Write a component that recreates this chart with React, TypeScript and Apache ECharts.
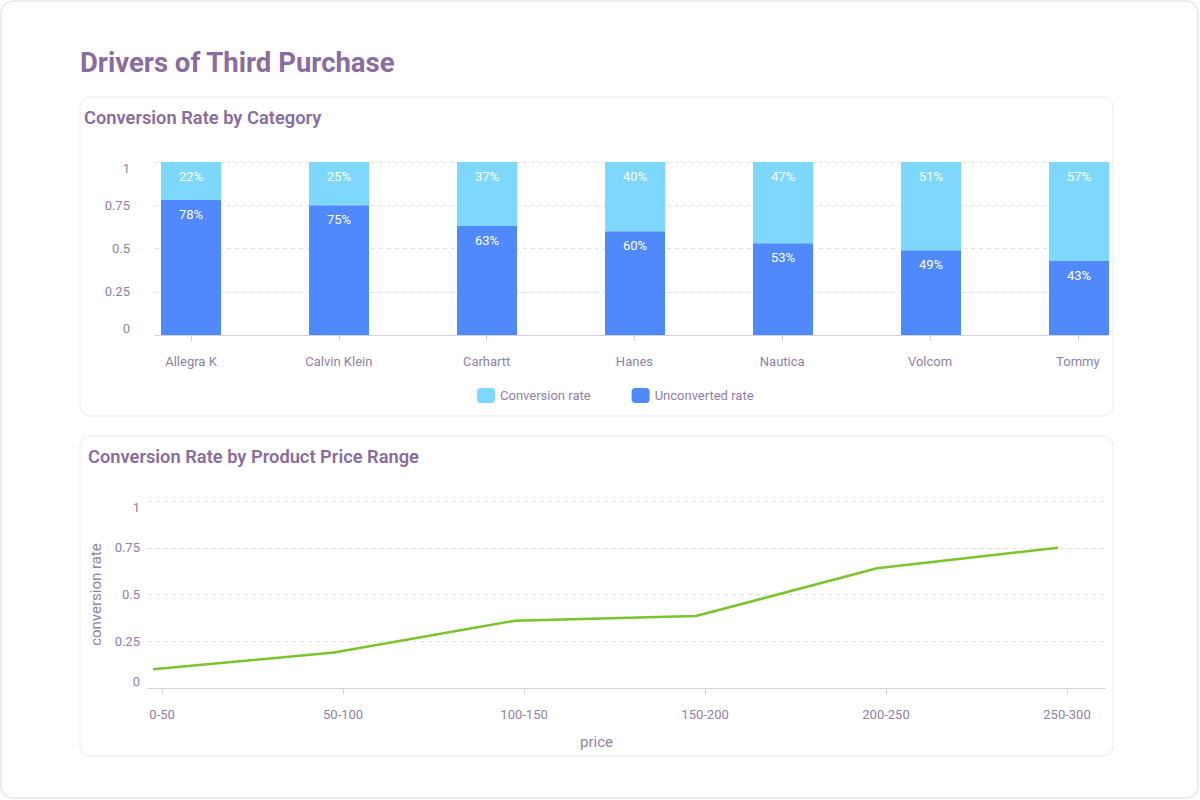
import React, { useEffect, useRef } from 'react'
import * as echarts from 'echarts'

const brands = ['Allegra K', 'Calvin Klein', 'Carhartt', 'Hanes', 'Nautica', 'Volcom', 'Tommy']
const conversionRate = [0.22, 0.25, 0.37, 0.4, 0.47, 0.51, 0.57]
const unconvertedRate = [0.78, 0.75, 0.63, 0.6, 0.53, 0.49, 0.43]

const priceRanges = ['0-50', '50-100', '100-150', '150-200', '200-250', '250-300']
const priceConversion = [0.1, 0.19, 0.36, 0.385, 0.64, 0.75]

const rateTicks = [0, 0.25, 0.5, 0.75, 1]

const TITLE = '#8a6c9e'
const LABEL = '#8f80a6'
const AXIS = '#d6cfe2'
const GRID = '#e2e2e6'
const FONT = 'Roboto, "Noto Sans", sans-serif'

export default function App() {
  const chartRef = useRef<HTMLDivElement>(null)

  useEffect(() => {
    document.body.style.margin = '0'
    if (!chartRef.current) {
      return
    }
    const chart = echarts.init(chartRef.current, null, { renderer: 'svg' })

    const yAxisBase = {
      type: 'value',
      min: rateTicks[0],
      max: rateTicks[rateTicks.length - 1],
      interval: 0.25,
      axisLine: { show: false },
      axisTick: { show: false },
      axisLabel: {
        color: LABEL,
        fontSize: 13,
        fontFamily: FONT,
        verticalAlignMinLabel: 'bottom',
        verticalAlignMaxLabel: 'top'
      },
      splitLine: {
        lineStyle: { color: GRID, type: [4, 4] }
      }
    }

    const barLabel = (values: number[]) => ({
      show: true,
      position: 'insideTop',
      distance: 8,
      color: '#fff',
      fontSize: 13,
      formatter: (p: any) => `${Math.round(values[p.dataIndex] * 100)}%`
    })

    const option = {
      animation: false,
      textStyle: { fontFamily: FONT },
      graphic: [
        {
          type: 'rect',
          z: -10,
          shape: { x: 1, y: 1, width: 1197, height: 797, r: 12 },
          style: { fill: '#fff', stroke: '#e9e4ee', lineWidth: 1.5 }
        },
        {
          type: 'rect',
          z: -5,
          shape: { x: 80, y: 97, width: 1033, height: 319, r: 10 },
          style: { fill: 'transparent', stroke: '#ebebeb', lineWidth: 1 }
        },
        {
          type: 'rect',
          z: -5,
          shape: { x: 80, y: 436, width: 1033, height: 320, r: 10 },
          style: { fill: 'transparent', stroke: '#ebebeb', lineWidth: 1 }
        },
        {
          type: 'text',
          x: 80,
          y: 62,
          style: {
            text: 'Drivers of Third Purchase',
            fill: TITLE,
            font: `bold 27.5px ${FONT}`,
            verticalAlign: 'middle'
          }
        },
        {
          type: 'text',
          x: 84,
          y: 117,
          style: {
            text: 'Conversion Rate by Category',
            fill: TITLE,
            font: `600 18.3px ${FONT}`,
            verticalAlign: 'middle'
          }
        },
        {
          type: 'text',
          x: 88,
          y: 456,
          style: {
            text: 'Conversion Rate by Product Price Range',
            fill: TITLE,
            font: `600 18.3px ${FONT}`,
            verticalAlign: 'middle'
          }
        }
      ],
      legend: {
        left: 472,
        top: 383,
        itemWidth: 18,
        itemHeight: 15,
        itemGap: 41,
        icon: 'roundRect',
        textStyle: { color: LABEL, fontSize: 13, fontFamily: FONT },
        data: ['Conversion rate', 'Unconverted rate']
      },
      grid: [
        { left: 155, right: 92, top: 162, bottom: 465 },
        { left: 148, right: 95, top: 501, bottom: 112 },
        // bars only: band centres fall on the bar positions of the reference
        { left: 117, right: 47, top: 162, bottom: 465 }
      ],
      xAxis: [
        {
          type: 'value',
          gridIndex: 0,
          min: -0.2436,
          max: 6.204,
          splitLine: { show: false },
          axisLine: { show: true, lineStyle: { color: AXIS } },
          axisTick: {
            show: true,
            length: 6,
            lineStyle: { color: AXIS },
            customValues: brands.map((_, i) => i)
          },
          axisLabel: {
            color: LABEL,
            fontSize: 13,
            margin: 20,
            customValues: brands.map((_, i) => i),
            formatter: (v: number) => brands[Math.round(v)] ?? ''
          }
        },
        {
          type: 'value',
          gridIndex: 1,
          min: -0.028,
          max: 5.26,
          splitLine: { show: false },
          axisLine: { show: true, lineStyle: { color: AXIS } },
          axisTick: {
            show: true,
            length: 6,
            lineStyle: { color: AXIS },
            customValues: priceRanges.map((_, i) => i + 0.05)
          },
          axisLabel: {
            color: LABEL,
            fontSize: 13,
            margin: 20,
            customValues: priceRanges.map((_, i) => i + 0.05),
            formatter: (v: number) => priceRanges[Math.round(v)] ?? ''
          },
          name: 'price',
          nameLocation: 'middle',
          nameGap: 46,
          nameTextStyle: { color: LABEL, fontSize: 15, padding: [0, 60, 0, 0] }
        },
        {
          type: 'category',
          gridIndex: 2,
          data: brands,
          show: false
        }
      ],
      yAxis: [
        {
          ...yAxisBase,
          gridIndex: 0,
          axisLabel: { ...yAxisBase.axisLabel, margin: 25 }
        },
        {
          ...yAxisBase,
          gridIndex: 1,
          axisLabel: { ...yAxisBase.axisLabel, margin: 8 },
          name: 'conversion rate',
          nameLocation: 'middle',
          nameGap: 37,
          nameTextStyle: { color: LABEL, fontSize: 15 }
        },
        {
          type: 'value',
          gridIndex: 2,
          min: 0,
          max: 1,
          show: false,
          splitLine: { show: false }
        }
      ],
      series: [
        {
          name: 'Unconverted rate',
          type: 'bar',
          stack: 'rate',
          xAxisIndex: 2,
          yAxisIndex: 2,
          barWidth: 60,
          data: unconvertedRate,
          itemStyle: { color: '#5089fc' },
          label: barLabel(unconvertedRate)
        },
        {
          name: 'Conversion rate',
          type: 'bar',
          stack: 'rate',
          xAxisIndex: 2,
          yAxisIndex: 2,
          barWidth: 60,
          data: conversionRate,
          itemStyle: { color: '#7ed7fd' },
          label: barLabel(conversionRate)
        },
        {
          name: 'conversion',
          type: 'line',
          xAxisIndex: 1,
          yAxisIndex: 1,
          showSymbol: false,
          data: priceConversion.map((v, i) => [i, v]),
          lineStyle: { color: '#7ac52a', width: 2.5 },
          itemStyle: { color: '#7ac52a' }
        }
      ]
    }

    chart.setOption(option)

    return () => {
      chart.dispose()
    }
  }, [])

  return <div ref={chartRef} style={{ width: 1200, height: 800 }} />
}
